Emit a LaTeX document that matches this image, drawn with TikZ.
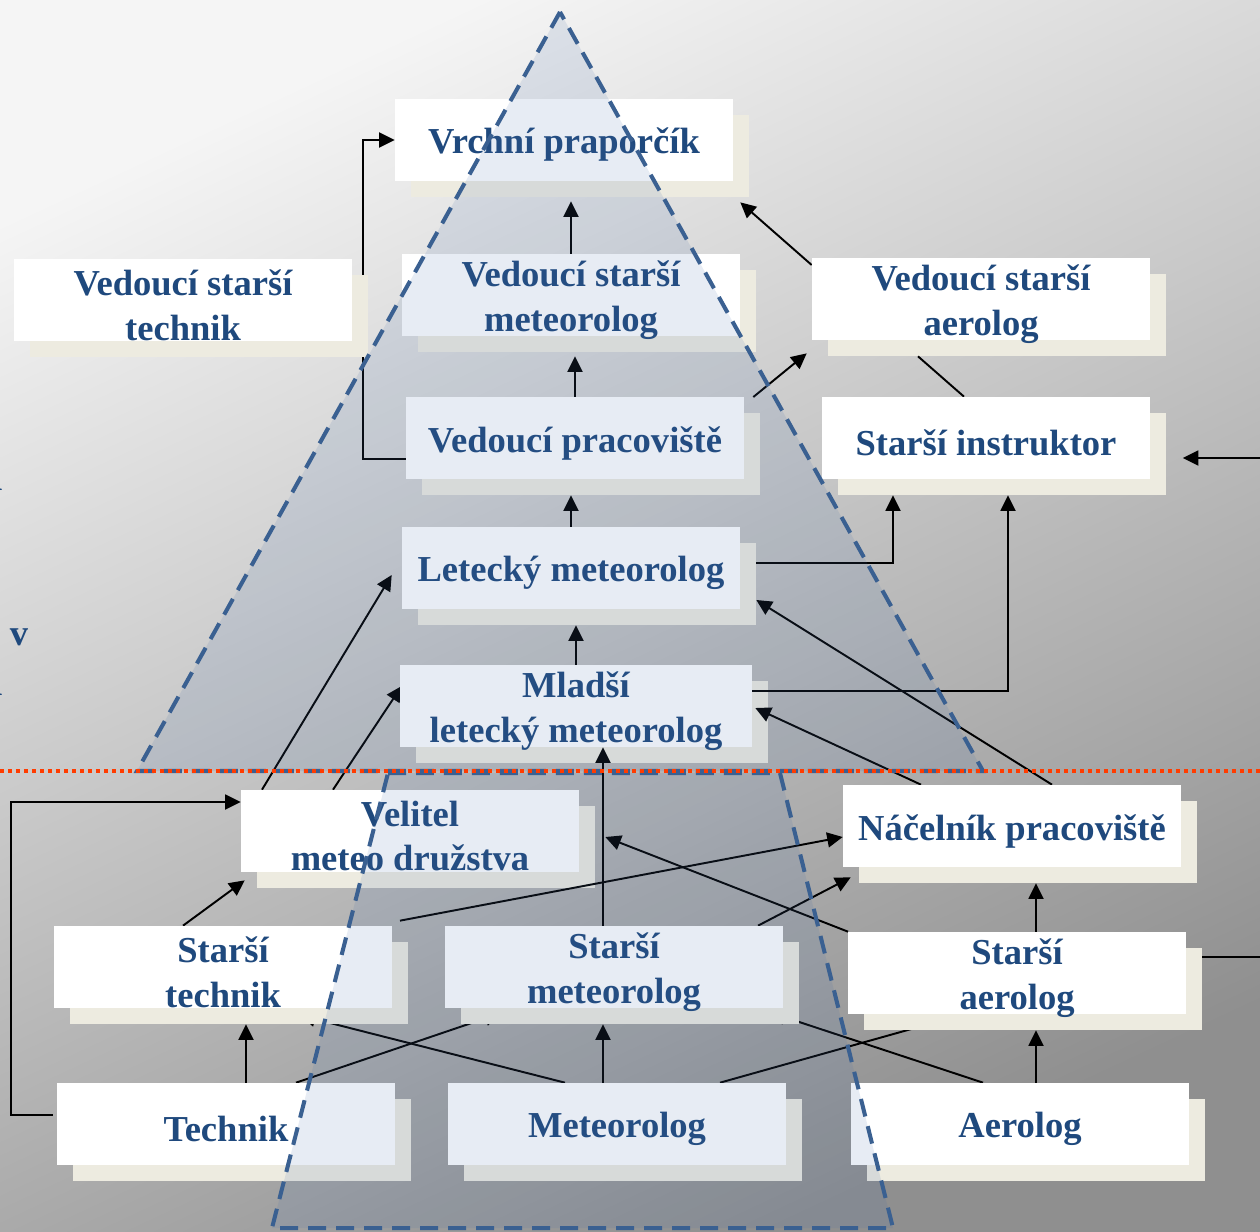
\documentclass[tikz,border=0pt]{standalone}
\usepackage{fontspec}
\setmainfont{Liberation Serif}
\usetikzlibrary{arrows.meta}
\definecolor{modra}{RGB}{31,73,125}
\definecolor{bezova}{RGB}{237,235,224}
\definecolor{carkovana}{RGB}{58,96,145}
\definecolor{prekryv}{RGB}{70,110,170}
\definecolor{tecky}{RGB}{255,60,0}
\pgfdeclarelayer{pozadi}
\pgfdeclarelayer{skryte}
\pgfdeclarelayer{stiny}
\pgfdeclarelayer{popredi}
\pgfdeclarelayer{vrch}
\pgfsetlayers{pozadi,skryte,stiny,main,popredi,vrch}
\tikzset{
  krab/.style={fill=white, minimum width=6.76cm, minimum height=1.64cm, inner sep=0pt},
  stin/.style={fill=bezova, minimum width=6.76cm, minimum height=1.64cm, inner sep=0pt},
  popis/.style={inner sep=0pt, align=center, text=modra, font=\bfseries\fontsize{20.8pt}{25.5pt}\selectfont},
  sip/.style={-{Triangle[length=3.1mm,width=3mm]}, line width=1.1pt},
  cara/.style={line width=1.1pt},
  hranice/.style={draw=carkovana, line width=2.3pt, dash pattern=on 0.36cm off 0.2cm, fill=prekryv, fill opacity=0.13},
  zlomek/.style={text=modra, inner sep=0pt, font=\bfseries\fontsize{20.8pt}{25.5pt}\selectfont}
}
\newcommand{\krabice}[4][]{%
  \begin{pgfonlayer}{stiny}\node[stin,#1] (#2s) at ([shift={(16,16)}]#3) {};\end{pgfonlayer}
  \begin{pgfonlayer}{popredi}\node[krab,#1] (#2) at (#3) {};
  \node[popis] (#2t) at ([shift={(0,5)}]#3) {#4};\end{pgfonlayer}}
\begin{document}
\begin{tikzpicture}[x=0.02cm,y=-0.02cm]
\useasboundingbox (0,0) rectangle (1260,1231);
\begin{pgfonlayer}{pozadi}
\shade[top color=black!4, bottom color=black!44, shading angle=25] (0,0) rectangle (1260,1231);
\end{pgfonlayer}

\krabice{vp}{564,140}{Vrchní praporčík}
\krabice{vsm}{571,295}{Vedoucí starší\\meteorolog}
\krabice{vst}{183,300}{Vedoucí starší\\technik}
\krabice{vsa}{981,299}{Vedoucí starší\\aerolog}
\krabice{vpr}{575,438}{Vedoucí pracoviště}
\krabice[minimum width=6.58cm]{si}{986,438}{Starší instruktor}
\krabice{lm}{571,568}{Letecký meteorolog}
\krabice[minimum width=7.04cm]{mlm}{576,706}{Mladší\\letecký meteorolog}
\krabice{vmd}{410,831}{Velitel\\meteo družstva}
\krabice{np}{1012,826}{Náčelník pracoviště}
\krabice{stech}{223,967}{Starší\\technik}
\krabice{smet}{614,967}{Starší\\meteorolog}
\krabice{saer}{1017,973}{Starší\\aerolog}
\krabice{tech}{226,1124}{Technik}
\krabice{met}{617,1124}{Meteorolog}
\krabice{aer}{1020,1124}{Aerolog}

\begin{pgfonlayer}{skryte}
\draw[sip] ([shift={(0,21)}]vpr.west) -- ++(-43,0) |- (vp.west);
\draw[sip] ([shift={(70,0)}]tech.north) -- ([shift={(-130,-11)}]smets.south);
\draw[sip] ([shift={(-52,0)}]met.north) -- ([shift={(61,-9)}]stechs.south);
\draw[sip] ([shift={(103,0)}]met.north) -- ([shift={(-73,-15)}]saers.south);
\draw[sip] ([shift={(-37,0)}]aer.north) -- ([shift={(140,-12)}]smets.south);
\end{pgfonlayer}

\draw[sip, shorten >=0.08cm] (vsm.north) -- (vsm.north |- vps.south);
\draw[sip, shorten >=0.08cm] (vpr.north) -- (vpr.north |- vsms.south);
\draw[sip] (lm.north) -- (lm.north |- vprs.south);
\draw[sip] (mlm.north) -- (mlm.north |- lms.south);
\draw[sip] ([shift={(-11,0)}]smet.north) coordinate (a5) -- (a5 |- mlm.south);
\draw[sip] ([shift={(-14,0)}]met.north) coordinate (a6) -- (a6 |- smets.south);
\draw[sip] ([shift={(20,0)}]tech.north) coordinate (a7) -- (a7 |- stechs.south);
\draw[sip] ([shift={(16,0)}]aer.north) coordinate (a8) -- (a8 |- saers.south);
\draw[sip] ([shift={(19,0)}]saer.north) coordinate (a9) -- (a9 |- nps.south);
\draw[sip] ([shift={(-40,0)}]stech.north) -- ([shift={(4,8)}]vmd.south west);
\draw[sip] ([shift={(-148,0)}]vmd.north) -- ([shift={(-10,7)}]lm.west);
\draw[sip] ([shift={(-77,0)}]vmd.north) -- ([shift={(2,-20)}]mlm.west);
\draw[sip] ([shift={(177,-5)}]stech.north) -- ([shift={(0,11)}]np.west);
\draw[sip] ([shift={(-169,0)}]saer.north) -- ([shift={(10,-10)}]vmds.east);
\draw[sip] ([shift={(144,0)}]smet.north) -- ([shift={(8,10)}]np.south west);
\draw[sip] ([shift={(40,0)}]np.north) -- ([shift={(0,16)}]lms.east);
\draw[sip] ([shift={(-91,0)}]np.north) -- ([shift={(3,2)}]mlm.east);
\draw[sip] ([shift={(0,-21)}]lms.east) -| ([shift={(-109,0)}]sis.south);
\draw[sip] ([shift={(0,-15)}]mlm.east) -| ([shift={(6,0)}]sis.south);
\draw[sip] ([shift={(9,-41)}]vpr.east) -- ([shift={(-5,13)}]vsa.south west);
\draw[sip] ([shift={(0,-34)}]vsa.west) -- ([shift={(-9,5)}]vps.south east);
\draw[cara] ([shift={(-79,0)}]vsas.south) -- ([shift={(-22,0)}]si.north);
\draw[sip] ([shift={(-4,-9)}]tech.west) -- ++(-42,0) |- ([shift={(0,-29)}]vmd.west);
\coordinate (okrajI) at (1262,458);
\coordinate (okrajA) at (1262,957);
\draw[sip] (okrajI) -- ([shift={(16,4)}]sis.east);
\draw[cara] ([shift={(0,-32)}]saers.east) -- (okrajA);

\begin{pgfonlayer}{vrch}
\draw[hranice] (560,12) -- (137,771) -- (983,771) -- cycle;
\draw[hranice] (388,773) -- (780,773) -- (893,1228) -- (272,1228) -- cycle;
\draw[draw=tecky, line width=2pt, dash pattern=on 0.08cm off 0.08cm] (0,771) -- (1260,771);
\node[zlomek, anchor=base] (pismenoV) at (19,645) {v};
\node[zlomek, anchor=base east] (pismenoL1) at (3,490) {l};
\node[zlomek, anchor=base east] (pismenoL2) at (3,695) {l};
\end{pgfonlayer}
\end{tikzpicture}
\end{document}
